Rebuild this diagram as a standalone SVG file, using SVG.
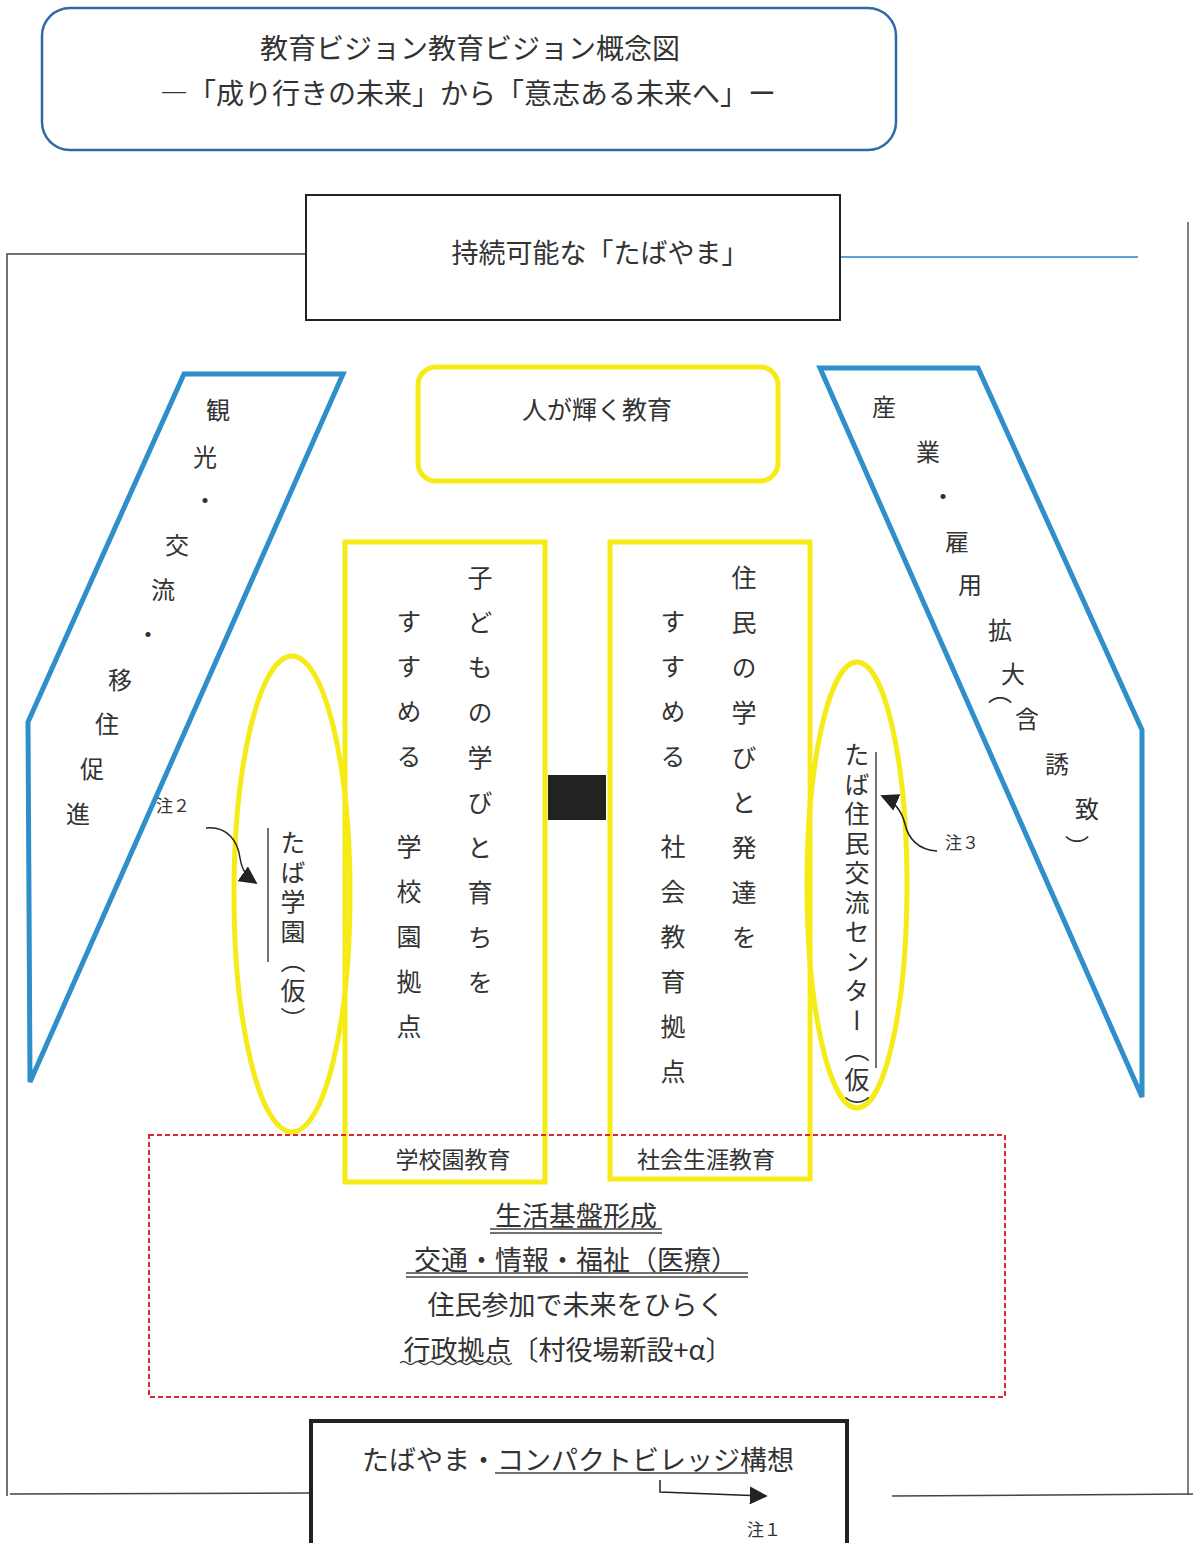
<svg xmlns="http://www.w3.org/2000/svg" width="1193" height="1543" viewBox="0 0 1193 1543">
<defs>
<style>
text{font-family:"Noto Sans CJK JP","Noto Sans",sans-serif;fill:#333}
.t28{font-size:28px}
.t27{font-size:27px}
.t25{font-size:25px}
.t24{font-size:24px}
.t23{font-size:23px}
.t17{font-size:17px}
.mid{text-anchor:middle;dominant-baseline:central}
.vert{writing-mode:vertical-rl;text-anchor:start}
.blue{fill:none;stroke:#2f8fcb;stroke-width:5;stroke-linejoin:miter}
.yel{fill:none;stroke:#f6eb16;stroke-width:5}
.frame{fill:none;stroke:#444;stroke-width:1.5}
.ul{stroke:#444;stroke-width:1.5;fill:none}
</style>
<marker id="ah2" viewBox="0 0 10 10" refX="9" refY="5" markerWidth="18" markerHeight="18" markerUnits="userSpaceOnUse" orient="auto">
<path d="M0,0 L10,5 L0,10 z" fill="#222"/>
</marker>
</defs>
<rect width="1193" height="1543" fill="#fff"/>

<g id="frame-lines">
<polyline class="frame" points="306,254 7,254 7,1496"/>
<line x1="840" y1="257" x2="1138" y2="257" stroke="#5aa3d3" stroke-width="2"/>
<line x1="1188" y1="222" x2="1188" y2="1495" stroke="#555" stroke-width="1.5"/>
<line x1="10" y1="1494" x2="310" y2="1493" stroke="#444" stroke-width="1.5"/>
<line x1="892" y1="1496" x2="1193" y2="1494" stroke="#444" stroke-width="1.5"/>
</g>

<g id="title">
<rect x="42" y="8" width="854" height="142" rx="28" fill="#fff" stroke="#2d6aa6" stroke-width="2.5"/>
<text class="t28 mid" x="470" y="47">教育ビジョン教育ビジョン概念図</text>
<text class="t28 mid" x="468" y="92">―「成り行きの未来」から「意志ある未来へ」ー</text>
</g>

<g id="sustainable">
<rect x="306" y="195" width="534" height="125" fill="#fff" stroke="#222" stroke-width="2"/>
<text class="t27 mid" x="600" y="251">持続可能な「たばやま」</text>
</g>

<g id="tourism">
<polygon class="blue" points="184,374 343,374 30,1082 28,722"/>
<text class="t24 mid" x="218 205 205 177 163 148" y="408 455 498 543 588 632">観光・交流・</text>
<text class="t24 mid" x="120 107 92 78" y="678 722 767 812">移住促進</text>
</g>

<g id="industry">
<polygon class="blue" points="820,368 978,368 1142,730 1142,1097"/>
<text class="t24 mid" x="884 928 943 957 970 1000 1013" y="405 450 494 540 583 628 672">産業・雇用拡大</text>
<text class="t24 mid" x="1000 1027 1057 1087 1077" y="690 717 762 807 845">︵含誘致︶</text>
</g>

<g id="people-education">
<rect class="yel" x="418" y="367" width="360" height="114" rx="18"/>
<text class="t25 mid" x="597" y="408">人が輝く教育</text>
</g>

<g id="school-ellipse">
<ellipse class="yel" cx="292" cy="894" rx="58" ry="238"/>
<text class="t25 vert" x="293" y="830" style="letter-spacing:4.5px">たば学園（仮）</text>
<line class="ul" x1="268" y1="828" x2="268" y2="962"/>
</g>

<g id="community-ellipse">
<ellipse class="yel" cx="857" cy="885" rx="50" ry="223"/>
<text class="t25 vert" x="857" y="742" style="letter-spacing:4.5px">たば住民交流センター（仮）</text>
<line class="ul" x1="876" y1="752" x2="876" y2="1068"/>
</g>

<g id="school-column">
<rect class="yel" x="345" y="542" width="200" height="640"/>
<text class="t25 vert" x="480" y="565" style="letter-spacing:20px">子どもの学びと育ちを</text>
<text class="t25 vert" x="409" y="609" style="letter-spacing:20px">すすめる　学校園拠点</text>
<text class="t23 mid" x="453" y="1158">学校園教育</text>
</g>

<g id="community-column">
<rect class="yel" x="610" y="542" width="200" height="637"/>
<text class="t25 vert" x="744" y="565" style="letter-spacing:20px">住民の学びと発達を</text>
<text class="t25 vert" x="673" y="609" style="letter-spacing:20px">すすめる　社会教育拠点</text>
<text class="t23 mid" x="706" y="1158">社会生涯教育</text>
</g>

<g id="link-block">
<rect x="548" y="775" width="58" height="45" fill="#222"/>
</g>

<g id="base-box">
<rect x="149" y="1135" width="856" height="262" fill="none" stroke="#e2262d" stroke-width="2" stroke-dasharray="5,3"/>
<text class="t27 mid" x="576" y="1214">生活基盤形成</text>
<path class="ul" d="M490,1229 H662 M490,1233 H662"/>
<text class="t27 mid" x="576" y="1258">交通・情報・福祉（医療）</text>
<path class="ul" d="M406,1273 H748 M406,1277 H748"/>
<text class="t27 mid" x="576" y="1303">住民参加で未来をひらく</text>
<text class="t27 mid" x="568" y="1348">行政拠点〔村役場新設+α〕</text>
<path class="ul" d="M400,1363 q3.5,-3 7,0 t7,0 t7,0 t7,0 t7,0 t7,0 t7,0 t7,0 t7,0 t7,0 t7,0 t7,0 t7,0 t7,0 t7,0 t7,0"/>
</g>

<g id="compact-village">
<rect x="311" y="1421" width="536" height="130" fill="#fff" stroke="#222" stroke-width="4"/>
<text class="t27 mid" x="578" y="1458">たばやま・コンパクトビレッジ構想</text>
<line class="ul" x1="495" y1="1473" x2="748" y2="1473"/>
<text class="t17 mid" x="764" y="1528">注１</text>
</g>

<g id="notes">
<text class="t17 mid" x="173" y="804">注２</text>
<text class="t17 mid" x="962" y="841">注３</text>
</g>

<g id="connectors" fill="none" stroke="#222" stroke-width="1.5">
<polyline points="660,1480 660,1492 766,1496" marker-end="url(#ah2)"/>
<path d="M206,828 C228,826 238,842 240,858 C242,870 246,876 256,883" marker-end="url(#ah2)"/>
<path d="M937,851 C918,850 908,838 905,824 C902,812 896,802 882,796" marker-end="url(#ah2)"/>
</g>
</svg>
